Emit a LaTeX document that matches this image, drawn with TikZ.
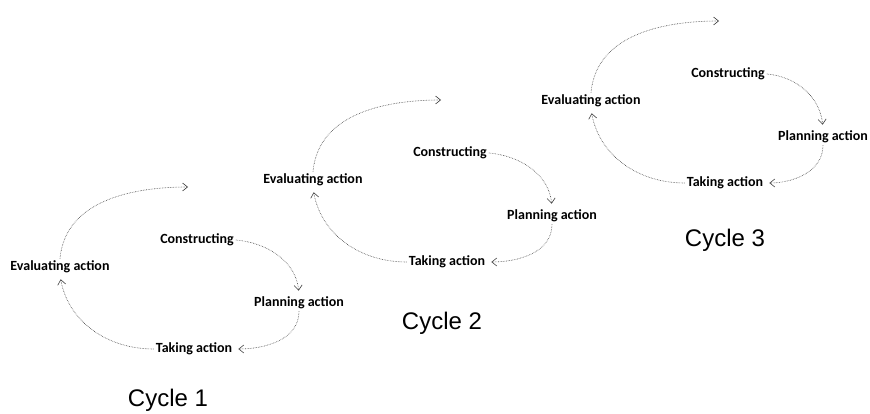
\documentclass[tikz,border=0pt]{standalone}
\usepackage{fontspec}
\setmainfont{Carlito}
\newfontfamily\cyclefont{Liberation Sans}
\usetikzlibrary{arrows.meta}

\begin{document}
\begin{tikzpicture}[
  x=1pt, y=1pt,
  every node/.style={font=\bfseries\fontsize{14}{16}\selectfont, inner sep=2pt},
  flow/.style={black!75, densely dotted, line width=0.6pt, shorten >=4pt,
    -{Straight Barb[length=5pt,width=8pt]}},
  cyclename/.style={font=\cyclefont\fontsize{24}{28}\selectfont}
]
  \useasboundingbox (0,0) rectangle (870,413);

  % cycle 1
  \node (eva) at (60,146)  {Evaluating action};
  \node (con) at (197,173) {Constructing};
  \node (pla) at (299,110) {Planning action};
  \node (tak) at (194,64)  {Taking action};
  \coordinate (out) at (192,226);

  \draw[flow] (eva.north) to[out=85,in=180] (out);
  \draw[flow] (con.east) to[out=-5,in=95] (pla.north);
  \draw[flow] (pla.south) to[out=-90,in=0] (tak.east);
  \draw[flow] (tak.west) to[out=180,in=-80] (eva.south);

  \node[cyclename] (c) at (168,13) {Cycle 1};

  % cycle 2
  \begin{scope}[xshift=253pt, yshift=87pt]
    \node (eva2) at (60,146)  {Evaluating action};
    \node (con2) at (197,173) {Constructing};
    \node (pla2) at (299,110) {Planning action};
    \node (tak2) at (194,64)  {Taking action};
    \coordinate (out2) at (192,226);

    \draw[flow] (eva2.north) to[out=85,in=180] (out2);
    \draw[flow] (con2.east) to[out=-5,in=95] (pla2.north);
    \draw[flow] (pla2.south) to[out=-90,in=0] (tak2.east);
    \draw[flow] (tak2.west) to[out=180,in=-80] (eva2.south);

    \node[cyclename] (c2) at (189,3) {Cycle 2};
  \end{scope}

  % cycle 3
  \begin{scope}[xshift=531pt, yshift=166pt]
    \node (eva3) at (60,146)  {Evaluating action};
    \node (con3) at (197,173) {Constructing};
    \node (pla3) at (292,110) {Planning action};
    \node (tak3) at (194,64)  {Taking action};
    \coordinate (out3) at (192,226);

    \draw[flow] (eva3.north) to[out=85,in=180] (out3);
    \draw[flow] (con3.east) to[out=-5,in=95] (pla3.north);
    \draw[flow] (pla3.south) to[out=-90,in=0] (tak3.east);
    \draw[flow] (tak3.west) to[out=180,in=-80] (eva3.south);

    \node[cyclename] (c3) at (194,7) {Cycle 3};
  \end{scope}
\end{tikzpicture}
\end{document}
